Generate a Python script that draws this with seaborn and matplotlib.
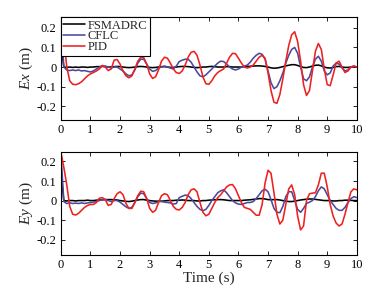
import matplotlib
matplotlib.use("Agg")
import matplotlib.pyplot as plt
import numpy as np
import pandas as pd
import seaborn as sns

# time axis, 0.1 s steps
time_s = np.round(np.arange(0, 101) * 0.1, 1)

controllers = ["FSMADRC", "CFLC", "PID"]
colors = {"FSMADRC": "#000000", "CFLC": "#4a4a9c", "PID": "#ee2020"}

# ---- Ex (m) ----
ex_fsmadrc = [0.12, 0.0, -0.002, 0.0, -0.002, 0.0, -0.002, 0.0, 0.0, -0.002,
              0.0, 0.0, 0.002, 0.002, 0.003, 0.002, 0.0, 0.0, 0.002, 0.003,
              0.002, 0.0, -0.002, -0.003, -0.002, 0.0, 0.002, 0.003, 0.002, 0.0,
              -0.002, -0.003, -0.002, 0.0, 0.002, 0.002, 0.0, -0.002, -0.002, 0.0,
              0.002, 0.003, 0.003, 0.002, 0.0, -0.002, -0.003, -0.002, 0.0, 0.0,
              0.002, 0.003, 0.002, 0.0, 0.0, 0.0, 0.002, 0.002, 0.0, 0.0,
              0.0, 0.0, 0.002, 0.003, 0.004, 0.005, 0.006, 0.006, 0.005, 0.003,
              0.0, -0.004, -0.006, -0.005, -0.002, 0.002, 0.006, 0.009, 0.012, 0.012,
              0.008, 0.002, -0.002, -0.003, 0.0, 0.005, 0.009, 0.01, 0.006, 0.0,
              -0.004, -0.005, -0.002, 0.002, 0.003, 0.0, -0.002, -0.002, 0.0, 0.001,
              0.0]
ex_cflc = [0.25, 0.0, -0.015, -0.018, -0.015, -0.018, -0.015, -0.02, -0.018, -0.022,
           -0.025, -0.02, -0.01, 0.0, 0.005, 0.005, 0.0, -0.005, 0.0, 0.0,
           -0.01, -0.02, -0.035, -0.045, -0.04, -0.015, 0.02, 0.04, 0.04, 0.015,
           -0.01, -0.022, -0.018, -0.005, 0.0, 0.005, 0.0, -0.005, -0.01, 0.005,
           0.028, 0.035, 0.04, 0.04, 0.025, 0.0, -0.025, -0.045, -0.05, -0.04,
           -0.025, -0.01, 0.005, 0.02, 0.03, 0.028, 0.015, 0.0, -0.01, -0.015,
           -0.01, 0.0, 0.005, 0.01, 0.025, 0.045, 0.06, 0.07, 0.065, 0.04,
           -0.02, -0.08, -0.11, -0.1, -0.07, -0.03, 0.02, 0.06, 0.09, 0.1,
           0.07, 0.0, -0.06, -0.07, -0.05, 0.0, 0.04, 0.055, 0.03, -0.02,
           -0.04, -0.03, 0.005, 0.02, 0.015, -0.005, -0.02, -0.015, 0.0, 0.005,
           0.0]
ex_pid = [0.26, 0.15, 0.0, -0.07, -0.088, -0.09, -0.085, -0.075, -0.06, -0.045,
          -0.035, -0.028, -0.02, -0.01, 0.008, 0.0, -0.018, -0.01, 0.035, 0.038,
          0.015, -0.02, -0.045, -0.055, -0.045, -0.01, 0.03, 0.05, 0.048, 0.015,
          -0.035, -0.058, -0.05, -0.015, 0.03, 0.05, 0.045, 0.02, -0.01, -0.028,
          -0.033, -0.02, 0.01, 0.05, 0.075, 0.08, 0.06, 0.01, -0.05, -0.085,
          -0.088, -0.07, -0.045, -0.028, -0.018, -0.01, 0.02, 0.05, 0.07, 0.068,
          0.045, 0.02, 0.0, -0.005, 0.0, 0.01, 0.03, 0.05, 0.06, 0.045,
          -0.03, -0.12, -0.18, -0.185, -0.14, -0.06, 0.03, 0.11, 0.165, 0.18,
          0.13, 0.03, -0.09, -0.145, -0.12, -0.02, 0.08, 0.12, 0.09, -0.01,
          -0.09, -0.095, -0.04, 0.02, 0.03, 0.0, -0.028, -0.02, 0.0, 0.005,
          0.0]

# ---- Ey (m) ----
ey_fsmadrc = [0.15, 0.0, -0.002, 0.0, 0.0, -0.002, 0.0, 0.0, 0.0, 0.002,
              0.0, 0.0, 0.002, 0.003, 0.004, 0.005, 0.005, 0.005, 0.004, 0.003,
              0.0, -0.002, -0.004, -0.005, -0.003, 0.0, 0.003, 0.005, 0.005, 0.002,
              0.0, -0.002, -0.003, -0.003, -0.003, -0.002, 0.0, 0.0, 0.0, 0.002,
              0.002, 0.003, 0.002, 0.0, 0.0, 0.0, -0.002, -0.002, 0.0, 0.0,
              0.002, 0.003, 0.004, 0.005, 0.005, 0.004, 0.002, 0.0, 0.0, 0.0,
              0.0, 0.0, 0.002, 0.003, 0.004, 0.006, 0.008, 0.01, 0.01, 0.008,
              0.005, 0.004, 0.005, 0.005, 0.003, 0.0, -0.003, -0.005, -0.005, -0.003,
              0.0, 0.003, 0.005, 0.007, 0.008, 0.008, 0.006, 0.004, 0.002, 0.0,
              0.0, 0.0, -0.002, -0.002, 0.0, 0.0, 0.002, 0.002, 0.001, 0.0,
              0.0]
ey_cflc = [0.25, -0.005, -0.015, -0.012, -0.015, -0.013, -0.015, -0.012, -0.015, -0.012,
           -0.01, -0.008, -0.005, 0.0, 0.005, 0.005, 0.0, -0.005, 0.0, 0.0,
           -0.008, -0.02, -0.032, -0.04, -0.035, -0.01, 0.02, 0.038, 0.035, 0.01,
           -0.01, -0.015, -0.012, -0.005, -0.005, -0.008, -0.01, -0.012, -0.018, -0.015,
           0.015, 0.022, 0.028, 0.025, 0.01, -0.01, -0.03, -0.045, -0.052, -0.045,
           -0.025, 0.0, 0.02, 0.04, 0.05, 0.055, 0.04, 0.02, 0.0, -0.012,
           -0.018, -0.02, -0.015, -0.01, -0.01, -0.005, 0.01, 0.03, 0.05, 0.058,
           0.045, 0.005, -0.04, -0.06, -0.062, -0.03, 0.02, 0.045, 0.045, 0.0,
           -0.045, -0.06, -0.04, -0.015, -0.008, 0.0, 0.02, 0.05, 0.07, 0.06,
           0.03, 0.0, -0.02, -0.04, -0.05, -0.05, -0.035, -0.01, 0.01, 0.02,
           0.015]
ey_pid = [0.25, 0.17, 0.08, -0.03, -0.07, -0.074, -0.065, -0.05, -0.035, -0.025,
          -0.02, -0.02, -0.01, 0.012, 0.015, 0.005, -0.025, -0.02, 0.01, 0.035,
          0.045, 0.03, -0.015, -0.04, -0.04, -0.01, 0.025, 0.048, 0.045, 0.01,
          -0.04, -0.06, -0.05, -0.01, 0.025, 0.035, 0.03, 0.0, -0.03, -0.045,
          -0.048, -0.035, -0.01, 0.03, 0.055, 0.06, 0.045, -0.01, -0.06, -0.078,
          -0.07, -0.04, -0.01, 0.015, 0.03, 0.05, 0.07, 0.08, 0.082, 0.06,
          0.025, -0.01, -0.035, -0.04, -0.045, -0.06, -0.075, -0.075, -0.02, 0.09,
          0.155, 0.14, 0.04, -0.07, -0.12, -0.1, -0.02, 0.06, 0.08, 0.03,
          -0.08, -0.15, -0.13, 0.0, 0.035, 0.038, 0.04, 0.08, 0.14, 0.14,
          0.07, -0.02, -0.08, -0.115, -0.13, -0.12, -0.07, -0.01, 0.045, 0.06,
          0.055]

yticks = [-0.2, -0.1, 0, 0.1, 0.2]
yticklabels = ["-0.2", "-0.1", "0", "0.1", "0.2"]
xticks = list(range(0, 11))


def long_frame(fs, cf, pid):
    parts = []
    for name, vals in zip(controllers, [fs, cf, pid]):
        parts.append(pd.DataFrame({"t": time_s, "e": vals, "ctrl": name}))
    return pd.concat(parts, ignore_index=True)


sns.set_style("ticks")
plt.rcParams["font.family"] = ["Liberation Serif", "DejaVu Serif"]
plt.rcParams["mathtext.fontset"] = "custom"
plt.rcParams["mathtext.rm"] = "Liberation Serif"
plt.rcParams["mathtext.it"] = "Liberation Serif:italic"

fig = plt.figure(figsize=(3.78, 2.94), dpi=100)
ax1 = fig.add_axes([0.161, 0.592, 0.783, 0.350])
ax2 = fig.add_axes([0.161, 0.133, 0.783, 0.351])

panels = [(ax1, long_frame(ex_fsmadrc, ex_cflc, ex_pid), "$Ex$ (m)", (-0.27, 0.255)),
          (ax2, long_frame(ey_fsmadrc, ey_cflc, ey_pid), "$Ey$ (m)", (-0.278, 0.25))]

for i, (ax, df, ylab, ylim) in enumerate(panels):
    sns.lineplot(data=df, x="t", y="e", hue="ctrl", palette=colors,
                 hue_order=controllers, estimator=None, linewidth=1.15,
                 legend=(i == 0), ax=ax)
    ax.set_xlim(0, 10)
    ax.set_ylim(*ylim)
    ax.set_xticks(xticks)
    ax.set_yticks(yticks)
    ax.set_yticklabels(yticklabels)
    ax.tick_params(direction="in", length=3, width=0.6, top=True, right=True,
                   labelsize=9, pad=3, colors="black")
    for s in ax.spines.values():
        s.set_linewidth(0.8)
        s.set_color("black")
    ax.set_ylabel(ylab, fontsize=11, labelpad=1)
    ax.set_xlabel("")

ax2.set_xlabel("Time (s)", fontsize=11, labelpad=0)

leg = ax1.legend(loc="upper left", fontsize=9, frameon=True, fancybox=False,
                 borderaxespad=0, handlelength=1.7, handletextpad=0.25,
                 borderpad=0.2, labelspacing=-0.1)
leg.get_frame().set_edgecolor("black")
leg.get_frame().set_linewidth(0.8)
leg.get_frame().set_alpha(1)

fig.savefig("out.png", dpi=100)
